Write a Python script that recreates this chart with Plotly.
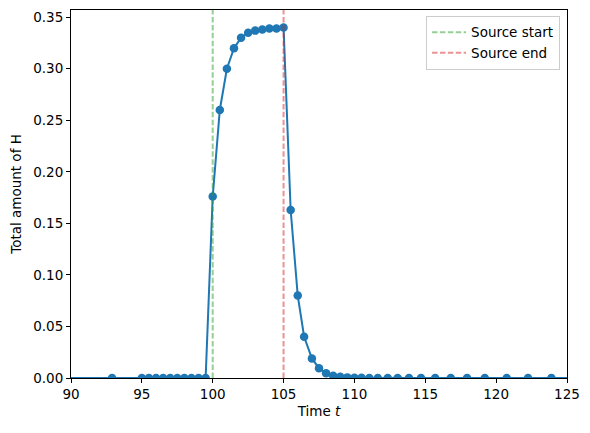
import plotly.graph_objects as go

# Data
time = [80.0, 92.9, 95.0, 95.5, 96.0, 96.5, 97.0, 97.5, 98.0, 98.5, 99.0, 99.5,
        100.0, 100.5, 101.0, 101.5, 102.0, 102.5, 103.0, 103.5, 104.0, 104.5, 105.0,
        105.5, 106.0, 106.45, 107.0, 107.5, 108.0, 108.5, 109.0, 109.5, 110.0, 110.5,
        111.05, 111.65, 112.35, 113.05, 113.85, 114.7, 115.7, 116.8, 117.95, 119.2,
        120.75, 122.25, 123.9, 125.8]
amount_h = [0.0, 0.0, 0.0, 0.0, 0.0, 0.0, 0.0, 0.0, 0.0, 0.0, 0.0, 0.0,
            0.176, 0.260, 0.300, 0.320, 0.330, 0.335, 0.337, 0.338, 0.339, 0.339, 0.340,
            0.163, 0.080, 0.040, 0.019, 0.0095, 0.0046, 0.0022, 0.0011, 0.0006, 0.0003, 0.00015,
            0.0001, 0.00005, 0.00002, 0.00001, 0.0, 0.0, 0.0, 0.0, 0.0, 0.0,
            0.0, 0.0, 0.0, 0.0]
source_start = 100
source_end = 105
x_range = [90, 125]
y_range = [0, 0.357]
y_ticks = [0.00, 0.05, 0.10, 0.15, 0.20, 0.25, 0.30, 0.35]
x_ticks = [90, 95, 100, 105, 110, 115, 120, 125]

FONT = dict(family="DejaVu Sans", size=13.5, color="black")

fig = go.Figure()
fig.add_trace(go.Scatter(
    x=time, y=amount_h, mode="lines+markers",
    line=dict(color="#1f77b4", width=2),
    marker=dict(color="#1f77b4", size=8.5),
    showlegend=False, cliponaxis=True,
))
fig.add_trace(go.Scatter(
    x=[source_start, source_start], y=y_range, mode="lines",
    line=dict(color="rgba(44,160,44,0.5)", width=2, dash="5.5px,2.4px"),
    name="Source start",
))
fig.add_trace(go.Scatter(
    x=[source_end, source_end], y=y_range, mode="lines",
    line=dict(color="rgba(214,39,40,0.5)", width=2, dash="5.5px,2.4px"),
    name="Source end",
))

axis_common = dict(
    showgrid=False, zeroline=False, showline=True, linecolor="black", linewidth=1,
    mirror=True, ticks="outside", ticklen=4, tickwidth=1, tickcolor="black",
    tickfont=FONT,
)
fig.update_xaxes(range=x_range, tickvals=x_ticks, **axis_common,
                 title=dict(text="Time <i>t</i>", font=FONT, standoff=5))
fig.update_yaxes(range=y_range, tickvals=y_ticks, tickformat=".2f", **axis_common,
                 title=dict(text="Total amount of H", font=FONT, standoff=8))

fig.update_layout(
    width=590, height=433,
    margin=dict(l=71, r=23, t=10, b=55),
    plot_bgcolor="white", paper_bgcolor="white",
    font=FONT,
    legend=dict(x=0.986, y=0.984, xanchor="right", yanchor="top",
                bgcolor="rgba(255,255,255,0.8)", bordercolor="#cccccc", borderwidth=1,
                font=FONT, itemwidth=34, tracegroupgap=4),
)

fig.write_html("out.html")
